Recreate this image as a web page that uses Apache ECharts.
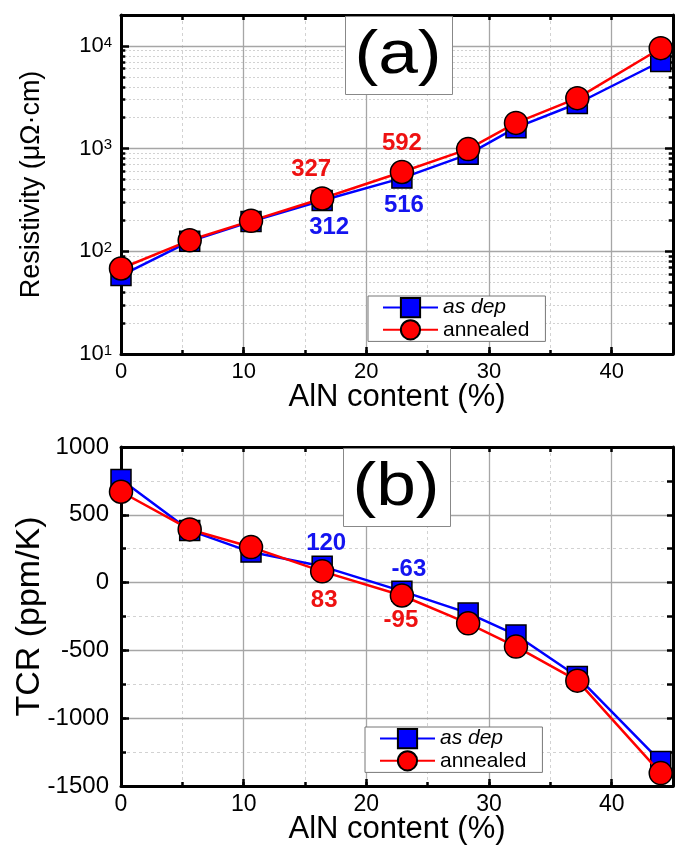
<!DOCTYPE html>
<html><head><meta charset="utf-8">
<script src="https://cdn.jsdelivr.net/npm/echarts@6/dist/echarts.min.js"></script>
<style>html,body{margin:0;padding:0;background:#fff}#c{width:675px;height:845px}</style>
</head><body><div id="c"></div>
<script>
// ---- data ----
const alnContent = [0, 5.6, 10.6, 16.4, 22.9, 28.3, 32.2, 37.2, 44.0];
const resAsDep = [58, 125, 195, 312, 516, 880, 1600, 2750, 7050];
const resAnnealed = [68, 128, 198, 327, 592, 990, 1780, 3100, 9500];
const tcrAsDep = [760, 385, 225, 120, -63, -225, -386, -693, -1320];
const tcrAnnealed = [670, 392, 262, 83, -95, -300, -472, -723, -1405];
const labeledIdx = [3, 4];
const seriesNames = ['as dep', 'annealed'];
const xTicks = [0, 10, 20, 30, 40];
const resTickExponents = [1, 2, 3, 4];
const tcrTicks = [-1500, -1000, -500, 0, 500, 1000];
const minorRes = [20,30,40,50,60,70,80,90,200,300,400,500,600,700,800,900,2000,3000,4000,5000,6000,7000,8000,9000];

const FONT = '"Liberation Sans", Arial, sans-serif';
const BLUE = '#0000ff', RED = '#ff0000';
const LBLUE = '#1414f0', LRED = '#ee1111';

// label offsets for annotated points (style only)
const offs = {
  topAs: [[7, 27], [2, 27]],
  topAn: [[-11, -29], [0, -29]],
  botAs: [[4, -23], [7, -22]],
  botAn: [[2, 29], [-1, 25]]
};

function makeData(vals, offList, color) {
  return alnContent.map((x, i) => {
    const k = labeledIdx.indexOf(i);
    const item = { value: [x, vals[i]] };
    if (k >= 0) {
      item.label = {
        show: true, position: 'inside', offset: offList[k],
        formatter: p => String(p.value[1]),
        color: color, fontSize: 24, fontWeight: 'bold', fontFamily: FONT
      };
    }
    return item;
  });
}

function makeSeries(name, vals, gi, offList, isAs) {
  return {
    name: name, type: 'line', xAxisIndex: gi * 3, yAxisIndex: gi * 3,
    data: makeData(vals, offList, isAs ? LBLUE : LRED),
    symbol: isAs ? 'rect' : 'circle',
    symbolSize: isAs ? 20 : 23,
    itemStyle: { color: isAs ? BLUE : RED, borderColor: '#000', borderWidth: 1.5 },
    lineStyle: { color: isAs ? BLUE : RED, width: 2.5, type: 'solid' },
    z: isAs ? 6 : 7,
    animation: false
  };
}

const axLine = { show: true, onZero: false, lineStyle: { color: '#000', width: 3 } };
const noLine = { show: false, onZero: false };
const majorSplit = { show: true, lineStyle: { color: '#a6a6a6', width: 1.3 } };
const minorSplit = { show: true, lineStyle: { color: '#d2d2d2', width: 1, type: [3, 3] } };

function xAxes(gi, labelSize) {
  return [
    { gridIndex: gi, type: 'value', min: 0, max: 45, interval: 10, position: 'bottom',
      axisLine: axLine,
      axisTick: { inside: true, length: 7, lineStyle: { color: '#000', width: 2.5 } },
      axisLabel: { fontSize: labelSize, color: '#000', fontFamily: FONT, margin: 7, showMaxLabel: false },
      splitLine: majorSplit,
      name: 'AlN content (%)', nameLocation: 'middle', nameGap: 28, nameMoveOverlap: false,
      nameTextStyle: { fontSize: 31, color: '#000', fontFamily: FONT }, z: 3 },
    { gridIndex: gi, type: 'value', min: 0, max: 45, interval: 5, position: 'bottom',
      axisLine: noLine,
      axisTick: { inside: true, length: 4, lineStyle: { color: '#000', width: 2.5 } },
      axisLabel: { show: false }, splitLine: minorSplit, z: 1 },
    { gridIndex: gi, type: 'value', min: 0, max: 45, interval: 5, position: 'top',
      axisLine: axLine,
      axisTick: { inside: true, length: 5, lineStyle: { color: '#000', width: 2.5 } },
      axisLabel: { show: false }, splitLine: { show: false }, z: 3 }
  ];
}

function legendFor(left, top) {
  return { left: left, top: top, orient: 'vertical', data: seriesNames,
    backgroundColor: '#fff', borderColor: '#777', borderWidth: 1,
    padding: [1, 16, 1, 14], itemWidth: 55, itemHeight: 24, itemGap: 1,
    formatter: n => n === 'as dep' ? '{i|' + n + '}' : '{n|' + n + '}',
    textStyle: { rich: { i: { fontSize: 21, fontStyle: 'italic', fontFamily: FONT, color: '#000' },
                         n: { fontSize: 21, fontFamily: FONT, color: '#000' } } },
    selectedMode: false, z: 8 };
}

const option = {
  backgroundColor: '#fff',
  animation: false,
  grid: [
    { left: 121, top: 15, right: 2, height: 339, show: false, outerBoundsMode: 'none', containLabel: false },
    { left: 121, top: 447, right: 2, height: 339, show: false, outerBoundsMode: 'none', containLabel: false }
  ],
  xAxis: [].concat(xAxes(0, 22), xAxes(1, 23)),
  yAxis: [
    { gridIndex: 0, type: 'log', min: 10, max: 20000, position: 'left',
      axisLine: axLine,
      axisTick: { inside: true, length: 8, lineStyle: { color: '#000', width: 2.5 } },
      axisLabel: { showMaxLabel: false, margin: 9, color: '#000',
        formatter: v => {
          const e = Math.round(Math.log10(v));
          return resTickExponents.indexOf(e) >= 0 ? '{b|10}{s|' + e + '}' : '';
        },
        rich: { b: { fontSize: 22, fontFamily: FONT, color: '#000', verticalAlign: 'bottom' },
                s: { fontSize: 15, fontFamily: FONT, color: '#000', verticalAlign: 'top' } } },
      splitLine: majorSplit,
      name: 'Resistivity (μΩ·cm)', nameLocation: 'middle', nameGap: 76, nameMoveOverlap: false,
      nameTextStyle: { fontSize: 27, color: '#000', fontFamily: FONT }, z: 3 },
    { gridIndex: 0, type: 'log', min: 10, max: 20000, position: 'right',
      axisLine: axLine,
      axisTick: { inside: true, length: 8, lineStyle: { color: '#000', width: 2.5 } },
      axisLabel: { show: false }, splitLine: { show: false }, z: 3 },
    { gridIndex: 0, type: 'log', min: 10, max: 20000, position: 'left', show: false },
    { gridIndex: 1, type: 'value', min: -1500, max: 1000, interval: 500, position: 'left',
      axisLine: axLine,
      axisTick: { inside: true, length: 8, lineStyle: { color: '#000', width: 2.5 } },
      axisLabel: { fontSize: 24, color: '#000', fontFamily: FONT, margin: 12,
        formatter: v => (tcrTicks.indexOf(v) >= 0 ? String(v) : '') },
      splitLine: majorSplit,
      name: 'TCR (ppm/K)', nameLocation: 'middle', nameGap: 74, nameMoveOverlap: false,
      nameTextStyle: { fontSize: 34, color: '#000', fontFamily: FONT }, z: 3 },
    { gridIndex: 1, type: 'value', min: -1500, max: 1000, interval: 250, position: 'left',
      axisLine: noLine,
      axisTick: { inside: true, length: 5, lineStyle: { color: '#000', width: 2.5 } },
      axisLabel: { show: false }, splitLine: minorSplit, z: 1 },
    { gridIndex: 1, type: 'value', min: -1500, max: 1000, interval: 250, position: 'right',
      axisLine: axLine,
      axisTick: { inside: true, length: 6, lineStyle: { color: '#000', width: 2.5 } },
      axisLabel: { show: false }, splitLine: { show: false }, z: 3 }
  ],
  legend: [legendFor(368, 296), legendFor(365, 727)],
  graphic: [
    { type: 'rect', left: 345, top: 16, shape: { width: 107, height: 78 },
      style: { fill: '#fff', stroke: '#888', lineWidth: 1 }, z: 5 },
    { type: 'text', x: 398, y: 56, scaleX: 1.15, originX: 0, originY: 0,
      style: { text: '(a)', fontSize: 62, fontFamily: FONT, fill: '#000', align: 'center', verticalAlign: 'middle' }, z: 6 },
    { type: 'rect', left: 343, top: 448, shape: { width: 107, height: 78 },
      style: { fill: '#fff', stroke: '#888', lineWidth: 1 }, z: 5 },
    { type: 'text', x: 396, y: 488, scaleX: 1.15, originX: 0, originY: 0,
      style: { text: '(b)', fontSize: 62, fontFamily: FONT, fill: '#000', align: 'center', verticalAlign: 'middle' }, z: 6 }
  ],
  series: [
    { type: 'line', xAxisIndex: 0, yAxisIndex: 0, data: [], silent: true, z: 1,
      markLine: { silent: true, symbol: 'none', animation: false, label: { show: false }, z: 1,
        data: [].concat(
          minorRes.map(v => [{ coord: [0, v], lineStyle: { color: '#d2d2d2', width: 1, type: [2, 2] } }, { coord: [45, v] }]),
          minorRes.map(v => [{ coord: [0, v], lineStyle: { color: '#000', width: 2.5, type: 'solid' } }, { coord: [0.35, v] }]),
          minorRes.map(v => [{ coord: [44.65, v], lineStyle: { color: '#000', width: 2.5, type: 'solid' } }, { coord: [45, v] }])
        ) } },
    makeSeries('as dep', resAsDep, 0, offs.topAs, true),
    makeSeries('annealed', resAnnealed, 0, offs.topAn, false),
    makeSeries('as dep', tcrAsDep, 1, offs.botAs, true),
    makeSeries('annealed', tcrAnnealed, 1, offs.botAn, false)
  ]
};

const chart = echarts.init(document.getElementById('c'), null, { renderer: 'canvas' });
chart.setOption(option);
</script>
</body></html>
